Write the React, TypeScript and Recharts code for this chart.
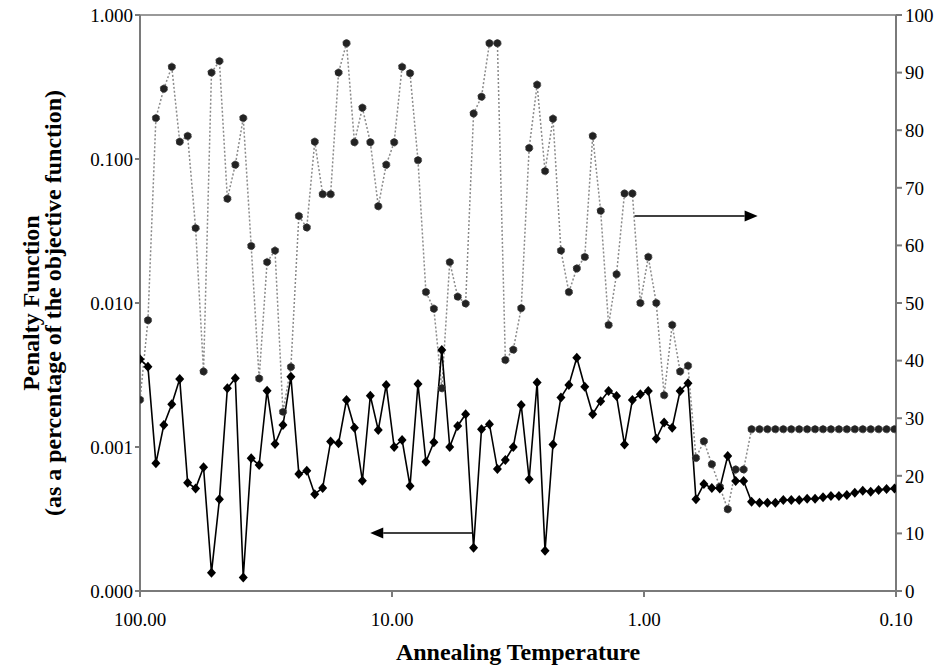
import React from "react"
import {
  LineChart,
  Line,
  XAxis,
  YAxis,
  ReferenceLine,
  Label,
} from "recharts"

// annealing temperature, cooled by a constant factor each step
const temperatures = [
  100, 93, 86.49, 80.436, 74.805, 69.569, 64.699, 60.17, 55.958, 52.041,
  48.398, 45.01, 41.86, 38.93, 36.205, 33.67, 31.313, 29.121, 27.083, 25.187,
  23.424, 21.785, 20.26, 18.841, 17.522, 16.296, 15.155, 14.094, 13.108, 12.19,
  11.337, 10.543, 9.805, 9.119, 8.481, 7.887, 7.335, 6.822, 6.344, 5.9,
  5.487, 5.103, 4.746, 4.414, 4.105, 3.817, 3.55, 3.302, 3.071, 2.856,
  2.6556, 2.47, 2.297, 2.136, 1.987, 1.848, 1.718, 1.598, 1.486, 1.382,
  1.2853, 1.195, 1.112, 1.034, 0.9615, 0.894, 0.832, 0.773, 0.719, 0.669,
  0.6221, 0.5786, 0.5381, 0.5004, 0.4654, 0.4328, 0.4025, 0.3743, 0.3481, 0.3238,
  0.3011, 0.28, 0.2604, 0.2422, 0.2252, 0.2095, 0.1948, 0.1812, 0.1685, 0.1567,
  0.1457, 0.1355, 0.126, 0.1172, 0.109, 0.1014,
]

// penalty function (left, log axis)
const penaltyValues = [
  0.00406, 0.00361, 0.00077, 0.00142, 0.00198, 0.00297, 0.000565, 0.000516, 0.000723, 0.000134,
  0.000433, 0.00256, 0.003, 0.000124, 0.000835, 0.00075, 0.00246, 0.00105, 0.00142, 0.00308,
  0.00065, 0.000684, 0.00047, 0.00052, 0.00109, 0.00106, 0.00212, 0.00136, 0.000583, 0.00227,
  0.00131, 0.0027, 0.001, 0.00112, 0.000536, 0.00274, 0.00079, 0.00108, 0.00472, 0.001,
  0.0014, 0.00169, 0.0002, 0.00133, 0.00144, 0.000703, 0.000813, 0.001, 0.00196, 0.000597,
  0.0028, 0.00019, 0.00104, 0.00221, 0.0027, 0.00417, 0.00262, 0.00169, 0.00208, 0.00245,
  0.00226, 0.00104, 0.00212, 0.00232, 0.00245, 0.00114, 0.00148, 0.00136, 0.00245, 0.00277,
  0.000433, 0.000553, 0.00052, 0.000516, 0.000866, 0.00058, 0.00058, 0.000417, 0.00041, 0.00041,
  0.00041, 0.000428, 0.000428, 0.000428, 0.000437, 0.000437, 0.000447, 0.000457, 0.000457, 0.000464,
  0.000481, 0.000497, 0.000489, 0.000503, 0.000511, 0.000516,
]

// second series (right, linear axis 0-100)
const rightValues = [
  33.2, 47, 82.1, 87.2, 91, 78, 79, 63, 38.1, 90,
  92, 68.1, 74, 82.1, 59.9, 36.9, 57.1, 59.1, 31.1, 38.9,
  65.1, 63.1, 78, 68.9, 68.9, 90, 95.1, 77.9, 83.9, 77.9,
  66.8, 74, 77.9, 91, 89.9, 74.8, 51.9, 49, 35.2, 57.1,
  51.1, 49.9, 82.9, 85.8, 95.1, 95.1, 40.1, 41.9, 49.1, 76.9,
  87.9, 72.9, 82, 59.1, 51.9, 56, 58, 79, 66, 46.2,
  55, 69, 69, 50, 58, 50, 34, 46.2, 38.1, 39.1,
  23.1, 26, 22, 18.1, 14.2, 21.1, 21.1, 28.1, 28.1, 28.1,
  28.1, 28.1, 28.1, 28.1, 28.1, 28.1, 28.1, 28.1, 28.1, 28.1,
  28.1, 28.1, 28.1, 28.1, 28.1, 28.1,
]

const xTicks = [100, 10, 1, 0.1]
const leftTicks = [0.0001, 0.001, 0.01, 0.1, 1]
const rightTicks = [0, 10, 20, 30, 40, 50, 60, 70, 80, 90, 100]

// arrow annotations: [from, to] in data units
const rightArrow = { t: [1.09, 0.354], y: 65.1 }
const leftArrow = { t: [4.8, 12.2], y: 0.000253 }

const data = temperatures.map((t, i) => ({
  t,
  penalty: penaltyValues[i],
  right: rightValues[i],
}))

const FONT = "'Liberation Serif', 'Times New Roman', serif"
const AXIS = "#7a7a7a"

function Diamond(props: any) {
  const { cx, cy, index } = props
  if (cx == null || cy == null) return <g key={index} />
  return (
    <path
      key={index}
      d={`M${cx},${cy - 5} L${cx + 4.5},${cy} L${cx},${cy + 5} L${cx - 4.5},${cy} Z`}
      fill="#000"
    />
  )
}

function Arrow(props: any) {
  const { x1, y1, x2, y2 } = props
  const dir = x2 > x1 ? 1 : -1
  const len = 13
  return (
    <g>
      <line x1={x1} y1={y1} x2={x2 - dir * len} y2={y2} stroke="#000" strokeWidth={1.5} />
      <polygon
        points={`${x2},${y2} ${x2 - dir * len},${y2 - 5.5} ${x2 - dir * len},${y2 + 5.5}`}
        fill="#000"
      />
    </g>
  )
}

export default function App() {
  return (
    <div style={{ position: "absolute", left: 0, top: 0, width: 940, height: 665, background: "#fff" }}>
      <LineChart
        width={940}
        height={665}
        data={data}
        margin={{ top: 15, right: 0, left: 0, bottom: 0 }}
        style={{ fontFamily: FONT }}
      >
        <XAxis
          dataKey="t"
          type="number"
          scale="log"
          domain={[0.1, 100]}
          reversed
          ticks={xTicks}
          tickFormatter={(v: number) => v.toFixed(2)}
          height={74}
          stroke={AXIS}
          strokeWidth={2}
          tickSize={6}
          tickMargin={16}
          tick={{ fill: "#000", fontSize: 19, fontFamily: FONT }}
          allowDataOverflow
        >
          <Label
            content={(p: any) => {
              const vb = p.viewBox
              return (
                <text
                  x={vb.x + vb.width / 2}
                  y={vb.y + vb.height - 5}
                  textAnchor="middle"
                  fontSize={24}
                  fontWeight="bold"
                  fontFamily={FONT}
                  fill="#000"
                >
                  Annealing Temperature
                </text>
              )
            }}
          />
        </XAxis>
        <YAxis
          yAxisId="left"
          type="number"
          scale="log"
          domain={[0.0001, 1]}
          ticks={leftTicks}
          tickFormatter={(v: number) => v.toFixed(3)}
          width={140}
          stroke={AXIS}
          strokeWidth={2}
          tickSize={5}
          tickMargin={2}
          tick={{ fill: "#000", fontSize: 19, fontFamily: FONT }}
          allowDataOverflow
        >
          <Label
            content={(p: any) => {
              const vb = p.viewBox
              const cy = vb.y + vb.height / 2
              const x1 = vb.x + 31
              const x2 = vb.x + 53
              return (
                <g fontSize={24} fontWeight="bold" fontFamily={FONT} fill="#000">
                  <text x={x1} y={cy} transform={`rotate(-90, ${x1}, ${cy})`} textAnchor="middle" dominantBaseline="central">
                    Penalty Function
                  </text>
                  <text x={x2} y={cy} transform={`rotate(-90, ${x2}, ${cy})`} textAnchor="middle" dominantBaseline="central">
                    (as a percentage of the objective function)
                  </text>
                </g>
              )
            }}
          />
        </YAxis>
        <YAxis
          yAxisId="right"
          orientation="right"
          type="number"
          domain={[0, 100]}
          ticks={rightTicks}
          width={44}
          stroke={AXIS}
          strokeWidth={2}
          tickSize={6}
          tickMargin={3}
          tick={{ fill: "#000", fontSize: 19, fontFamily: FONT, textAnchor: "start" }}
        />
        <ReferenceLine yAxisId="left" y={1} stroke="#999" strokeWidth={2} />
        <Line
          yAxisId="right"
          dataKey="right"
          type="linear"
          stroke="#8a8a8a"
          strokeWidth={1.5}
          strokeDasharray="2 2"
          dot={{ r: 3.7, fill: "#222", stroke: "#555", strokeWidth: 1 }}
          activeDot={false}
          isAnimationActive={false}
        />
        <Line
          yAxisId="left"
          dataKey="penalty"
          type="linear"
          stroke="#000"
          strokeWidth={1.6}
          dot={<Diamond />}
          activeDot={false}
          isAnimationActive={false}
        />
        <ReferenceLine
          yAxisId="right"
          segment={[
            { x: rightArrow.t[0], y: rightArrow.y },
            { x: rightArrow.t[1], y: rightArrow.y },
          ]}
          shape={(p: any) => <Arrow {...p} />}
        />
        <ReferenceLine
          yAxisId="left"
          segment={[
            { x: leftArrow.t[0], y: leftArrow.y },
            { x: leftArrow.t[1], y: leftArrow.y },
          ]}
          shape={(p: any) => <Arrow {...p} />}
        />
      </LineChart>
    </div>
  )
}
